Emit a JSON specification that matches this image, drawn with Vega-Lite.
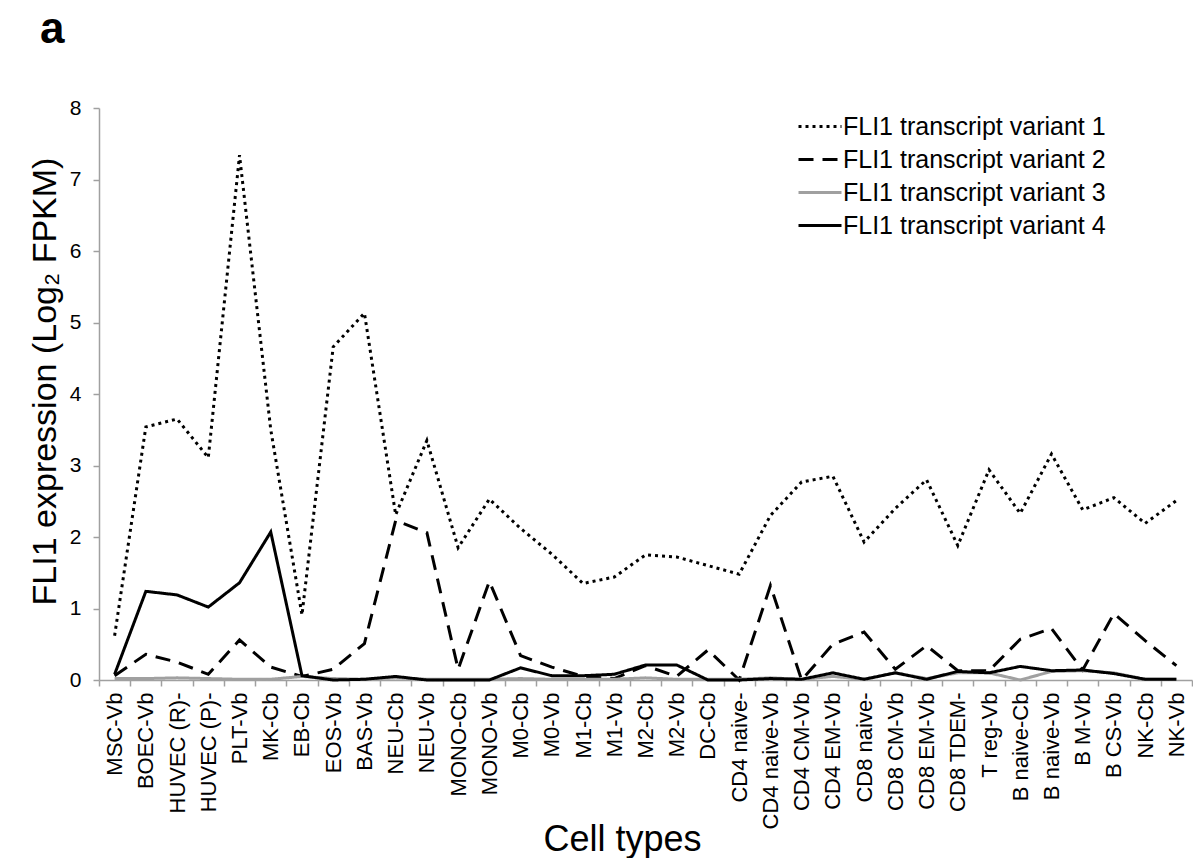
{
  "$schema": "https://vega.github.io/schema/vega-lite/v6.json",
  "width": 1093,
  "height": 572,
  "autosize": {"type": "none"},
  "padding": {"left": 99, "top": 108, "right": 1, "bottom": 178},
  "background": "white",
  "title": {"text": "a", "anchor": "start", "frame": "group", "fontSize": 44, "fontWeight": "bold", "font": "Liberation Sans", "color": "black", "dx": -59, "offset": 10, "baseline": "alphabetic"},
  "config": {"view": {"stroke": null}, "font": "Liberation Sans"},
  "datasets": {
    "expr": [
      {"cell": "MSC-Vb", "variant": "FLI1 transcript variant 1", "fpkm": 0.62},
      {"cell": "BOEC-Vb", "variant": "FLI1 transcript variant 1", "fpkm": 3.54},
      {"cell": "HUVEC (R)-", "variant": "FLI1 transcript variant 1", "fpkm": 3.65},
      {"cell": "HUVEC (P)-", "variant": "FLI1 transcript variant 1", "fpkm": 3.11},
      {"cell": "PLT-Vb", "variant": "FLI1 transcript variant 1", "fpkm": 7.34},
      {"cell": "MK-Cb", "variant": "FLI1 transcript variant 1", "fpkm": 3.5},
      {"cell": "EB-Cb", "variant": "FLI1 transcript variant 1", "fpkm": 0.91},
      {"cell": "EOS-Vb", "variant": "FLI1 transcript variant 1", "fpkm": 4.66},
      {"cell": "BAS-Vb", "variant": "FLI1 transcript variant 1", "fpkm": 5.13},
      {"cell": "NEU-Cb", "variant": "FLI1 transcript variant 1", "fpkm": 2.31},
      {"cell": "NEU-Vb", "variant": "FLI1 transcript variant 1", "fpkm": 3.35},
      {"cell": "MONO-Cb", "variant": "FLI1 transcript variant 1", "fpkm": 1.85},
      {"cell": "MONO-Vb", "variant": "FLI1 transcript variant 1", "fpkm": 2.53},
      {"cell": "M0-Cb", "variant": "FLI1 transcript variant 1", "fpkm": 2.12},
      {"cell": "M0-Vb", "variant": "FLI1 transcript variant 1", "fpkm": 1.76},
      {"cell": "M1-Cb", "variant": "FLI1 transcript variant 1", "fpkm": 1.35},
      {"cell": "M1-Vb", "variant": "FLI1 transcript variant 1", "fpkm": 1.44},
      {"cell": "M2-Cb", "variant": "FLI1 transcript variant 1", "fpkm": 1.75},
      {"cell": "M2-Vb", "variant": "FLI1 transcript variant 1", "fpkm": 1.72},
      {"cell": "DC-Cb", "variant": "FLI1 transcript variant 1", "fpkm": 1.6},
      {"cell": "CD4 naive-", "variant": "FLI1 transcript variant 1", "fpkm": 1.48},
      {"cell": "CD4 naive-Vb", "variant": "FLI1 transcript variant 1", "fpkm": 2.3},
      {"cell": "CD4 CM-Vb", "variant": "FLI1 transcript variant 1", "fpkm": 2.77},
      {"cell": "CD4 EM-Vb", "variant": "FLI1 transcript variant 1", "fpkm": 2.85},
      {"cell": "CD8 naive-", "variant": "FLI1 transcript variant 1", "fpkm": 1.93},
      {"cell": "CD8 CM-Vb", "variant": "FLI1 transcript variant 1", "fpkm": 2.4},
      {"cell": "CD8 EM-Vb", "variant": "FLI1 transcript variant 1", "fpkm": 2.8},
      {"cell": "CD8 TDEM-", "variant": "FLI1 transcript variant 1", "fpkm": 1.88},
      {"cell": "T reg-Vb", "variant": "FLI1 transcript variant 1", "fpkm": 2.94},
      {"cell": "B naive-Cb", "variant": "FLI1 transcript variant 1", "fpkm": 2.33},
      {"cell": "B naive-Vb", "variant": "FLI1 transcript variant 1", "fpkm": 3.16},
      {"cell": "B M-Vb", "variant": "FLI1 transcript variant 1", "fpkm": 2.38},
      {"cell": "B CS-Vb", "variant": "FLI1 transcript variant 1", "fpkm": 2.55},
      {"cell": "NK-Cb", "variant": "FLI1 transcript variant 1", "fpkm": 2.19},
      {"cell": "NK-Vb", "variant": "FLI1 transcript variant 1", "fpkm": 2.51},

      {"cell": "MSC-Vb", "variant": "FLI1 transcript variant 2", "fpkm": 0.06},
      {"cell": "BOEC-Vb", "variant": "FLI1 transcript variant 2", "fpkm": 0.36},
      {"cell": "HUVEC (R)-", "variant": "FLI1 transcript variant 2", "fpkm": 0.25},
      {"cell": "HUVEC (P)-", "variant": "FLI1 transcript variant 2", "fpkm": 0.08},
      {"cell": "PLT-Vb", "variant": "FLI1 transcript variant 2", "fpkm": 0.56},
      {"cell": "MK-Cb", "variant": "FLI1 transcript variant 2", "fpkm": 0.18},
      {"cell": "EB-Cb", "variant": "FLI1 transcript variant 2", "fpkm": 0.05},
      {"cell": "EOS-Vb", "variant": "FLI1 transcript variant 2", "fpkm": 0.15},
      {"cell": "BAS-Vb", "variant": "FLI1 transcript variant 2", "fpkm": 0.51},
      {"cell": "NEU-Cb", "variant": "FLI1 transcript variant 2", "fpkm": 2.23},
      {"cell": "NEU-Vb", "variant": "FLI1 transcript variant 2", "fpkm": 2.06},
      {"cell": "MONO-Cb", "variant": "FLI1 transcript variant 2", "fpkm": 0.15},
      {"cell": "MONO-Vb", "variant": "FLI1 transcript variant 2", "fpkm": 1.38},
      {"cell": "M0-Cb", "variant": "FLI1 transcript variant 2", "fpkm": 0.34},
      {"cell": "M0-Vb", "variant": "FLI1 transcript variant 2", "fpkm": 0.18},
      {"cell": "M1-Cb", "variant": "FLI1 transcript variant 2", "fpkm": 0.05},
      {"cell": "M1-Vb", "variant": "FLI1 transcript variant 2", "fpkm": 0.02},
      {"cell": "M2-Cb", "variant": "FLI1 transcript variant 2", "fpkm": 0.2},
      {"cell": "M2-Vb", "variant": "FLI1 transcript variant 2", "fpkm": 0.05},
      {"cell": "DC-Cb", "variant": "FLI1 transcript variant 2", "fpkm": 0.42},
      {"cell": "CD4 naive-", "variant": "FLI1 transcript variant 2", "fpkm": 0.0},
      {"cell": "CD4 naive-Vb", "variant": "FLI1 transcript variant 2", "fpkm": 1.32},
      {"cell": "CD4 CM-Vb", "variant": "FLI1 transcript variant 2", "fpkm": 0.0},
      {"cell": "CD4 EM-Vb", "variant": "FLI1 transcript variant 2", "fpkm": 0.5},
      {"cell": "CD8 naive-", "variant": "FLI1 transcript variant 2", "fpkm": 0.67},
      {"cell": "CD8 CM-Vb", "variant": "FLI1 transcript variant 2", "fpkm": 0.15},
      {"cell": "CD8 EM-Vb", "variant": "FLI1 transcript variant 2", "fpkm": 0.48},
      {"cell": "CD8 TDEM-", "variant": "FLI1 transcript variant 2", "fpkm": 0.13},
      {"cell": "T reg-Vb", "variant": "FLI1 transcript variant 2", "fpkm": 0.13},
      {"cell": "B naive-Cb", "variant": "FLI1 transcript variant 2", "fpkm": 0.57},
      {"cell": "B naive-Vb", "variant": "FLI1 transcript variant 2", "fpkm": 0.72},
      {"cell": "B M-Vb", "variant": "FLI1 transcript variant 2", "fpkm": 0.14},
      {"cell": "B CS-Vb", "variant": "FLI1 transcript variant 2", "fpkm": 0.93},
      {"cell": "NK-Cb", "variant": "FLI1 transcript variant 2", "fpkm": 0.55},
      {"cell": "NK-Vb", "variant": "FLI1 transcript variant 2", "fpkm": 0.2},

      {"cell": "MSC-Vb", "variant": "FLI1 transcript variant 3", "fpkm": 0.02},
      {"cell": "BOEC-Vb", "variant": "FLI1 transcript variant 3", "fpkm": 0.02},
      {"cell": "HUVEC (R)-", "variant": "FLI1 transcript variant 3", "fpkm": 0.03},
      {"cell": "HUVEC (P)-", "variant": "FLI1 transcript variant 3", "fpkm": 0.02},
      {"cell": "PLT-Vb", "variant": "FLI1 transcript variant 3", "fpkm": 0.01},
      {"cell": "MK-Cb", "variant": "FLI1 transcript variant 3", "fpkm": 0.01},
      {"cell": "EB-Cb", "variant": "FLI1 transcript variant 3", "fpkm": 0.05},
      {"cell": "EOS-Vb", "variant": "FLI1 transcript variant 3", "fpkm": 0.02},
      {"cell": "BAS-Vb", "variant": "FLI1 transcript variant 3", "fpkm": 0.01},
      {"cell": "NEU-Cb", "variant": "FLI1 transcript variant 3", "fpkm": 0.03},
      {"cell": "NEU-Vb", "variant": "FLI1 transcript variant 3", "fpkm": 0.01},
      {"cell": "MONO-Cb", "variant": "FLI1 transcript variant 3", "fpkm": 0.01},
      {"cell": "MONO-Vb", "variant": "FLI1 transcript variant 3", "fpkm": 0.01},
      {"cell": "M0-Cb", "variant": "FLI1 transcript variant 3", "fpkm": 0.02},
      {"cell": "M0-Vb", "variant": "FLI1 transcript variant 3", "fpkm": 0.01},
      {"cell": "M1-Cb", "variant": "FLI1 transcript variant 3", "fpkm": 0.01},
      {"cell": "M1-Vb", "variant": "FLI1 transcript variant 3", "fpkm": 0.01},
      {"cell": "M2-Cb", "variant": "FLI1 transcript variant 3", "fpkm": 0.03},
      {"cell": "M2-Vb", "variant": "FLI1 transcript variant 3", "fpkm": 0.01},
      {"cell": "DC-Cb", "variant": "FLI1 transcript variant 3", "fpkm": 0.01},
      {"cell": "CD4 naive-", "variant": "FLI1 transcript variant 3", "fpkm": 0.01},
      {"cell": "CD4 naive-Vb", "variant": "FLI1 transcript variant 3", "fpkm": 0.03},
      {"cell": "CD4 CM-Vb", "variant": "FLI1 transcript variant 3", "fpkm": 0.01},
      {"cell": "CD4 EM-Vb", "variant": "FLI1 transcript variant 3", "fpkm": 0.05},
      {"cell": "CD8 naive-", "variant": "FLI1 transcript variant 3", "fpkm": 0.01},
      {"cell": "CD8 CM-Vb", "variant": "FLI1 transcript variant 3", "fpkm": 0.1},
      {"cell": "CD8 EM-Vb", "variant": "FLI1 transcript variant 3", "fpkm": 0.02},
      {"cell": "CD8 TDEM-", "variant": "FLI1 transcript variant 3", "fpkm": 0.1},
      {"cell": "T reg-Vb", "variant": "FLI1 transcript variant 3", "fpkm": 0.1},
      {"cell": "B naive-Cb", "variant": "FLI1 transcript variant 3", "fpkm": 0.0},
      {"cell": "B naive-Vb", "variant": "FLI1 transcript variant 3", "fpkm": 0.12},
      {"cell": "B M-Vb", "variant": "FLI1 transcript variant 3", "fpkm": 0.13},
      {"cell": "B CS-Vb", "variant": "FLI1 transcript variant 3", "fpkm": 0.1},
      {"cell": "NK-Cb", "variant": "FLI1 transcript variant 3", "fpkm": 0.01},
      {"cell": "NK-Vb", "variant": "FLI1 transcript variant 3", "fpkm": 0.01},

      {"cell": "MSC-Vb", "variant": "FLI1 transcript variant 4", "fpkm": 0.08},
      {"cell": "BOEC-Vb", "variant": "FLI1 transcript variant 4", "fpkm": 1.24},
      {"cell": "HUVEC (R)-", "variant": "FLI1 transcript variant 4", "fpkm": 1.19},
      {"cell": "HUVEC (P)-", "variant": "FLI1 transcript variant 4", "fpkm": 1.02},
      {"cell": "PLT-Vb", "variant": "FLI1 transcript variant 4", "fpkm": 1.36},
      {"cell": "MK-Cb", "variant": "FLI1 transcript variant 4", "fpkm": 2.07},
      {"cell": "EB-Cb", "variant": "FLI1 transcript variant 4", "fpkm": 0.06},
      {"cell": "EOS-Vb", "variant": "FLI1 transcript variant 4", "fpkm": 0.0},
      {"cell": "BAS-Vb", "variant": "FLI1 transcript variant 4", "fpkm": 0.01},
      {"cell": "NEU-Cb", "variant": "FLI1 transcript variant 4", "fpkm": 0.05},
      {"cell": "NEU-Vb", "variant": "FLI1 transcript variant 4", "fpkm": 0.0},
      {"cell": "MONO-Cb", "variant": "FLI1 transcript variant 4", "fpkm": 0.0},
      {"cell": "MONO-Vb", "variant": "FLI1 transcript variant 4", "fpkm": 0.0},
      {"cell": "M0-Cb", "variant": "FLI1 transcript variant 4", "fpkm": 0.17},
      {"cell": "M0-Vb", "variant": "FLI1 transcript variant 4", "fpkm": 0.06},
      {"cell": "M1-Cb", "variant": "FLI1 transcript variant 4", "fpkm": 0.06},
      {"cell": "M1-Vb", "variant": "FLI1 transcript variant 4", "fpkm": 0.08},
      {"cell": "M2-Cb", "variant": "FLI1 transcript variant 4", "fpkm": 0.21},
      {"cell": "M2-Vb", "variant": "FLI1 transcript variant 4", "fpkm": 0.21},
      {"cell": "DC-Cb", "variant": "FLI1 transcript variant 4", "fpkm": 0.0},
      {"cell": "CD4 naive-", "variant": "FLI1 transcript variant 4", "fpkm": 0.0},
      {"cell": "CD4 naive-Vb", "variant": "FLI1 transcript variant 4", "fpkm": 0.02},
      {"cell": "CD4 CM-Vb", "variant": "FLI1 transcript variant 4", "fpkm": 0.01},
      {"cell": "CD4 EM-Vb", "variant": "FLI1 transcript variant 4", "fpkm": 0.1},
      {"cell": "CD8 naive-", "variant": "FLI1 transcript variant 4", "fpkm": 0.01},
      {"cell": "CD8 CM-Vb", "variant": "FLI1 transcript variant 4", "fpkm": 0.1},
      {"cell": "CD8 EM-Vb", "variant": "FLI1 transcript variant 4", "fpkm": 0.01},
      {"cell": "CD8 TDEM-", "variant": "FLI1 transcript variant 4", "fpkm": 0.12},
      {"cell": "T reg-Vb", "variant": "FLI1 transcript variant 4", "fpkm": 0.1},
      {"cell": "B naive-Cb", "variant": "FLI1 transcript variant 4", "fpkm": 0.19},
      {"cell": "B naive-Vb", "variant": "FLI1 transcript variant 4", "fpkm": 0.13},
      {"cell": "B M-Vb", "variant": "FLI1 transcript variant 4", "fpkm": 0.14},
      {"cell": "B CS-Vb", "variant": "FLI1 transcript variant 4", "fpkm": 0.09},
      {"cell": "NK-Cb", "variant": "FLI1 transcript variant 4", "fpkm": 0.01},
      {"cell": "NK-Vb", "variant": "FLI1 transcript variant 4", "fpkm": 0.01}
    ]
  },
  "data": {"name": "expr"},
  "mark": {"type": "line", "strokeWidth": 3, "strokeCap": "butt", "strokeJoin": "miter"},
  "encoding": {
    "x": {
      "field": "cell",
      "type": "nominal",
      "sort": null,
      "bandPosition": 0.5,
      "scale": {"type": "band", "paddingInner": 0, "paddingOuter": 0},
      "axis": {
        "title": "Cell types",
        "labelAngle": -90,
        "labelFontSize": 22,
        "labelColor": "black",
        "labelPadding": 6,
        "labelLimit": 0,
        "tickBand": "extent",
        "tickSize": 6,
        "tickColor": "#A0A0A0",
        "tickWidth": 1.5,
        "domainColor": "#A0A0A0",
        "domainWidth": 1.5,
        "grid": false,
        "titleFontSize": 36,
        "titleFontWeight": "normal",
        "titleColor": "black",
        "titleX": 523,
        "titleY": 170,
        "titleBaseline": "alphabetic"
      }
    },
    "y": {
      "field": "fpkm",
      "type": "quantitative",
      "scale": {"domain": [0, 8], "nice": false},
      "axis": {
        "title": "FLI1 expression (Log₂ FPKM)",
        "values": [0, 1, 2, 3, 4, 5, 6, 7, 8],
        "labelFontSize": 21,
        "labelColor": "black",
        "labelPadding": 12,
        "tickSize": 6,
        "tickColor": "#A0A0A0",
        "tickWidth": 1.5,
        "domainColor": "#A0A0A0",
        "domainWidth": 1.5,
        "grid": false,
        "titleFontSize": 34,
        "titleFontWeight": "normal",
        "titleColor": "black",
        "titleX": -54,
        "titleY": 273,
        "titleBaseline": "middle"
      }
    },
    "color": {
      "field": "variant",
      "type": "nominal",
      "scale": {"range": ["black", "black", "#A0A0A0", "black"]},
      "legend": {
        "title": null,
        "orient": "none",
        "legendX": 698,
        "legendY": 2,
        "padding": 0,
        "labelFontSize": 25,
        "labelColor": "black",
        "labelOffset": 0,
        "labelLimit": 0,
        "rowPadding": 0,
        "clipHeight": 33,
        "symbolType": "stroke",
        "symbolSize": 1849,
        "symbolStrokeWidth": 3
      }
    },
    "strokeDash": {
      "field": "variant",
      "type": "nominal",
      "scale": {"range": [[3, 4], [15, 9], [1, 0], [1, 0]]},
      "legend": {
        "title": null,
        "orient": "none",
        "legendX": 698,
        "legendY": 2,
        "padding": 0,
        "labelFontSize": 25,
        "labelColor": "black",
        "labelOffset": 0,
        "labelLimit": 0,
        "rowPadding": 0,
        "clipHeight": 33,
        "symbolType": "stroke",
        "symbolSize": 1849,
        "symbolStrokeWidth": 3
      }
    }
  }
}
